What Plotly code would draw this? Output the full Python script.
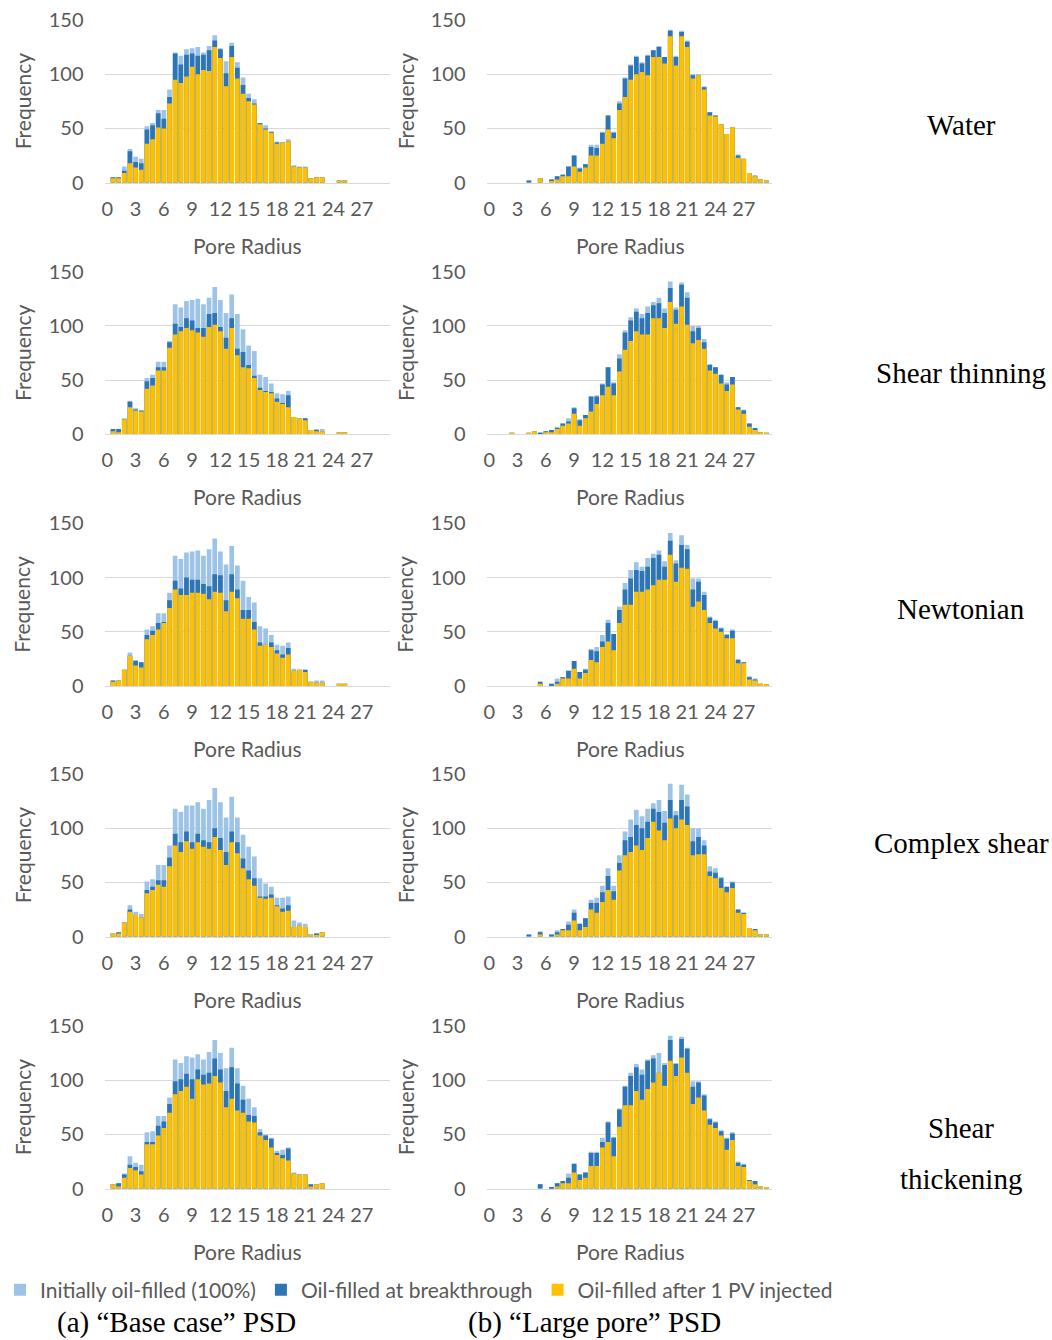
import plotly.graph_objects as go

# Pore-radius bins (0.6 wide)
RADIUS = [0.0, 0.6, 1.2, 1.8, 2.4, 3.0, 3.6, 4.2, 4.8, 5.4,
          6.0, 6.6, 7.2, 7.8, 8.4, 9.0, 9.6, 10.2, 10.8, 11.4,
          12.0, 12.6, 13.2, 13.8, 14.4, 15.0, 15.6, 16.2, 16.8, 17.4,
          18.0, 18.6, 19.2, 19.8, 20.4, 21.0, 21.6, 22.2, 22.8, 23.4,
          24.0, 24.6, 25.2, 25.8, 26.4, 27.0, 27.6, 28.2, 28.8, 29.4]

X_TICKS = [0, 3, 6, 9, 12, 15, 18, 21, 24, 27]
Y_TICKS = [0, 50, 100, 150]

SERIES = ["Initially oil-filled (100%)", "Oil-filled at breakthrough", "Oil-filled after 1 PV injected"]
# row labels on the right, one entry per text line with its vertical centre (px)
ROW_LABEL_LINES = [("Water", 125), ("Shear thinning", 373), ("Newtonian", 609),
                   ("Complex shear", 843), ("Shear", 1128), ("thickening", 1179)]
COL_LABELS = ["(a) \u201cBase case\u201d PSD", "(b) \u201cLarge pore\u201d PSD"]
X_TITLE = "Pore Radius"
Y_TITLE = "Frequency"

# ---------------- "Base case" PSD ----------------
BASE_WATER_INIT = [0, 5, 5, 15, 31, 24, 22, 52, 55, 67,
                   67, 86, 120, 117, 123, 124, 125, 120, 126, 136,
                   124, 112, 129, 111, 97, 82, 77, 55, 53, 47,
                   38, 37, 40, 16, 15, 15, 4, 5, 5, 0,
                   0, 2, 2, 0, 0, 0, 0, 0, 0, 0]
BASE_WATER_BT = [0, 5, 5, 11, 29, 19, 18, 49, 53, 64,
                 59, 79, 119, 109, 118, 119, 117, 118, 122, 131,
                 123, 101, 126, 106, 90, 78, 73, 55, 50, 47,
                 37, 37, 38, 15, 14, 14, 4, 5, 5, 0,
                 0, 2, 2, 0, 0, 0, 0, 0, 0, 0]
BASE_WATER_PV = [0, 4, 4, 9, 18, 14, 12, 36, 40, 51,
                 50, 73, 95, 92, 98, 107, 100, 104, 103, 125,
                 115, 89, 116, 96, 82, 75, 72, 54, 49, 46,
                 36, 37, 38, 15, 14, 14, 4, 5, 5, 0,
                 0, 2, 2, 0, 0, 0, 0, 0, 0, 0]

BASE_THIN_INIT = [0, 5, 5, 15, 31, 24, 22, 52, 55, 67,
                  67, 86, 120, 117, 123, 124, 125, 120, 126, 136,
                  124, 112, 129, 111, 97, 82, 77, 55, 53, 47,
                  38, 37, 40, 16, 15, 15, 4, 5, 5, 0,
                  0, 2, 2, 0, 0, 0, 0, 0, 0, 0]
BASE_THIN_BT = [0, 5, 5, 14, 30, 23, 22, 49, 52, 62,
                62, 85, 102, 99, 107, 105, 98, 98, 111, 112,
                99, 89, 107, 79, 76, 64, 54, 43, 40, 39,
                33, 29, 36, 16, 15, 15, 4, 4, 3, 0,
                0, 2, 2, 0, 0, 0, 0, 0, 0, 0]
BASE_THIN_PV = [0, 3, 2, 14, 25, 22, 21, 42, 45, 59,
                59, 80, 92, 95, 98, 96, 94, 90, 99, 101,
                95, 79, 98, 73, 62, 61, 52, 41, 39, 38,
                30, 28, 25, 16, 15, 13, 4, 3, 3, 0,
                0, 2, 2, 0, 0, 0, 0, 0, 0, 0]

BASE_NEWT_INIT = [0, 5, 5, 15, 31, 24, 22, 52, 55, 67,
                  67, 86, 120, 117, 123, 124, 125, 120, 126, 136,
                  124, 112, 129, 111, 97, 82, 77, 55, 53, 47,
                  38, 37, 40, 16, 15, 15, 4, 5, 5, 0,
                  0, 2, 2, 0, 0, 0, 0, 0, 0, 0]
BASE_NEWT_BT = [0, 5, 5, 15, 28, 23, 22, 47, 51, 58,
                59, 79, 97, 90, 100, 98, 98, 94, 92, 103,
                102, 79, 103, 89, 70, 70, 59, 40, 38, 40,
                33, 29, 35, 14, 15, 15, 4, 3, 3, 0,
                0, 2, 2, 0, 0, 0, 0, 0, 0, 0]
BASE_NEWT_PV = [0, 4, 5, 15, 28, 19, 17, 43, 47, 52,
                58, 72, 89, 84, 84, 86, 86, 85, 80, 87,
                86, 69, 87, 81, 62, 62, 52, 37, 38, 36,
                30, 26, 29, 14, 15, 13, 4, 3, 3, 0,
                0, 2, 2, 0, 0, 0, 0, 0, 0, 0]

BASE_CPLX_INIT = [0, 3, 4, 13, 29, 23, 21, 51, 53, 66,
                  66, 84, 118, 115, 121, 121, 124, 118, 126, 137,
                  124, 110, 129, 110, 94, 83, 74, 54, 49, 46,
                  36, 36, 37, 15, 13, 12, 2, 3, 4, 0,
                  0, 0, 0, 0, 0, 0, 0, 0, 0, 0]
BASE_CPLX_BT = [0, 3, 4, 13, 25, 20, 18, 43, 46, 52,
                52, 73, 95, 87, 97, 87, 95, 89, 87, 100,
                91, 78, 97, 87, 72, 61, 54, 37, 37, 39,
                29, 26, 29, 9, 10, 9, 2, 3, 4, 0,
                0, 0, 0, 0, 0, 0, 0, 0, 0, 0]
BASE_CPLX_PV = [0, 3, 3, 13, 23, 20, 18, 40, 43, 48,
                46, 65, 84, 78, 88, 81, 87, 83, 81, 92,
                80, 66, 87, 77, 63, 53, 47, 36, 35, 36,
                28, 23, 24, 9, 10, 9, 2, 1, 4, 0,
                0, 0, 0, 0, 0, 0, 0, 0, 0, 0]

BASE_THICK_INIT = [0, 4, 5, 14, 30, 24, 22, 52, 53, 67,
                   67, 84, 119, 116, 122, 121, 124, 119, 126, 137,
                   125, 111, 130, 111, 95, 83, 75, 55, 50, 47,
                   35, 36, 38, 15, 13, 13, 4, 4, 5, 0,
                   0, 0, 0, 0, 0, 0, 0, 0, 0, 0]
BASE_THICK_BT = [0, 4, 5, 13, 22, 20, 16, 43, 43, 58,
                 62, 78, 99, 101, 106, 101, 110, 105, 107, 120,
                 110, 90, 112, 97, 82, 68, 67, 52, 49, 46,
                 33, 31, 37, 14, 13, 13, 4, 4, 5, 0,
                 0, 0, 0, 0, 0, 0, 0, 0, 0, 0]
BASE_THICK_PV = [0, 4, 2, 10, 19, 17, 13, 41, 41, 49,
                 56, 70, 87, 90, 94, 83, 101, 96, 97, 104,
                 98, 75, 83, 72, 70, 62, 61, 49, 45, 38,
                 31, 28, 26, 14, 13, 13, 2, 4, 5, 0,
                 0, 0, 0, 0, 0, 0, 0, 0, 0, 0]

# ---------------- "Large pore" PSD ----------------
LARGE_WATER_INIT = [0, 0, 0, 0, 0, 0, 0, 2, 0, 4,
                    0, 3, 6, 8, 15, 25, 14, 17, 35, 35,
                    47, 62, 47, 75, 97, 109, 117, 111, 118, 122,
                    126, 116, 141, 117, 140, 131, 100, 100, 89, 65,
                    62, 54, 45, 51, 26, 22, 9, 7, 3, 2]
LARGE_WATER_BT = [0, 0, 0, 0, 0, 0, 0, 2, 0, 4,
                  0, 3, 6, 7, 15, 25, 13, 17, 33, 32,
                  46, 62, 46, 73, 96, 108, 116, 110, 117, 122,
                  125, 116, 140, 116, 139, 130, 99, 99, 88, 65,
                  62, 54, 45, 51, 25, 22, 9, 6, 3, 2]
LARGE_WATER_PV = [0, 0, 0, 0, 0, 0, 0, 0, 0, 4,
                  0, 1, 3, 6, 6, 15, 10, 14, 25, 25,
                  36, 49, 41, 67, 79, 95, 100, 102, 99, 116,
                  116, 110, 135, 108, 135, 125, 96, 99, 86, 62,
                  61, 54, 45, 51, 23, 22, 9, 6, 3, 2]

LARGE_THIN_INIT = [0, 0, 0, 0, 1, 0, 0, 1, 3, 2,
                   3, 4, 7, 10, 15, 25, 14, 18, 35, 36,
                   47, 62, 48, 74, 96, 108, 116, 111, 118, 122,
                   126, 116, 141, 117, 140, 131, 100, 100, 88, 65,
                   62, 55, 48, 53, 25, 23, 10, 6, 2, 1]
LARGE_THIN_BT = [0, 0, 0, 0, 1, 0, 0, 1, 3, 1,
                 3, 4, 6, 10, 12, 24, 13, 18, 35, 35,
                 46, 62, 47, 70, 94, 105, 113, 107, 112, 119,
                 121, 112, 135, 115, 138, 126, 95, 98, 85, 64,
                 62, 55, 46, 53, 25, 22, 10, 6, 2, 1]
LARGE_THIN_PV = [0, 0, 0, 0, 1, 0, 0, 1, 3, 0,
                 2, 2, 5, 8, 10, 19, 8, 15, 21, 28,
                 36, 44, 36, 58, 78, 86, 95, 92, 92, 107,
                 107, 98, 122, 102, 118, 101, 84, 87, 79, 59,
                 56, 47, 40, 46, 23, 19, 7, 4, 2, 1]

LARGE_NEWT_INIT = [0, 0, 0, 0, 0, 0, 0, 0, 0, 4,
                   0, 2, 7, 8, 14, 23, 13, 16, 34, 36,
                   47, 61, 48, 73, 95, 107, 114, 110, 118, 122,
                   125, 115, 141, 116, 139, 130, 99, 99, 87, 64,
                   61, 54, 48, 52, 25, 22, 9, 7, 2, 1]
LARGE_NEWT_BT = [0, 0, 0, 0, 0, 0, 0, 0, 0, 4,
                 0, 2, 4, 8, 14, 23, 13, 15, 33, 32,
                 41, 58, 48, 70, 89, 99, 107, 106, 110, 118,
                 121, 110, 134, 113, 130, 126, 89, 96, 84, 63,
                 60, 53, 47, 51, 24, 22, 8, 6, 2, 1]
LARGE_NEWT_PV = [0, 0, 0, 0, 0, 0, 0, 0, 0, 2,
                 0, 0, 2, 7, 7, 16, 7, 12, 24, 22,
                 36, 41, 33, 58, 75, 75, 87, 87, 89, 93,
                 98, 98, 121, 96, 109, 108, 73, 78, 70, 58,
                 53, 50, 44, 44, 21, 21, 6, 5, 2, 1]

LARGE_CPLX_INIT = [0, 0, 0, 0, 0, 0, 0, 2, 0, 5,
                   0, 2, 6, 7, 14, 25, 12, 17, 34, 36,
                   47, 63, 47, 75, 97, 108, 117, 111, 118, 123,
                   126, 116, 141, 116, 140, 131, 100, 100, 89, 65,
                   63, 55, 46, 51, 25, 22, 8, 7, 2, 2]
LARGE_CPLX_BT = [0, 0, 0, 0, 0, 0, 0, 2, 0, 4,
                 0, 2, 4, 7, 11, 22, 12, 17, 31, 31,
                 41, 56, 42, 68, 89, 92, 103, 100, 106, 118,
                 115, 105, 126, 112, 126, 120, 88, 92, 84, 60,
                 59, 54, 46, 50, 25, 22, 8, 7, 2, 2]
LARGE_CPLX_PV = [0, 0, 0, 0, 0, 0, 0, 0, 0, 2,
                 0, 0, 2, 6, 6, 15, 6, 9, 25, 22,
                 32, 43, 34, 61, 75, 78, 84, 80, 91, 106,
                 98, 89, 109, 100, 108, 103, 75, 76, 76, 56,
                 54, 45, 41, 45, 22, 21, 8, 6, 2, 2]

LARGE_THICK_INIT = [0, 0, 0, 0, 0, 0, 0, 0, 0, 4,
                    0, 1, 5, 7, 14, 23, 13, 15, 34, 34,
                    47, 62, 48, 74, 95, 107, 115, 110, 119, 123,
                    125, 116, 141, 116, 140, 130, 99, 99, 87, 65,
                    62, 54, 47, 52, 25, 23, 8, 7, 2, 1]
LARGE_THICK_BT = [0, 0, 0, 0, 0, 0, 0, 0, 0, 4,
                  0, 1, 5, 7, 10, 23, 13, 15, 33, 33,
                  43, 61, 47, 73, 94, 104, 112, 105, 118, 120,
                  107, 114, 137, 115, 138, 129, 94, 98, 86, 64,
                  61, 53, 46, 51, 24, 22, 8, 7, 2, 1]
LARGE_THICK_PV = [0, 0, 0, 0, 0, 0, 0, 0, 0, 0,
                  0, 0, 2, 5, 5, 15, 8, 10, 21, 21,
                  38, 43, 30, 57, 77, 77, 90, 82, 92, 98,
                  107, 95, 118, 104, 121, 107, 78, 84, 72, 59,
                  56, 49, 36, 45, 21, 20, 7, 4, 2, 1]

PANELS = [
    [(BASE_WATER_INIT, BASE_WATER_BT, BASE_WATER_PV), (LARGE_WATER_INIT, LARGE_WATER_BT, LARGE_WATER_PV)],
    [(BASE_THIN_INIT, BASE_THIN_BT, BASE_THIN_PV), (LARGE_THIN_INIT, LARGE_THIN_BT, LARGE_THIN_PV)],
    [(BASE_NEWT_INIT, BASE_NEWT_BT, BASE_NEWT_PV), (LARGE_NEWT_INIT, LARGE_NEWT_BT, LARGE_NEWT_PV)],
    [(BASE_CPLX_INIT, BASE_CPLX_BT, BASE_CPLX_PV), (LARGE_CPLX_INIT, LARGE_CPLX_BT, LARGE_CPLX_PV)],
    [(BASE_THICK_INIT, BASE_THICK_BT, BASE_THICK_PV), (LARGE_THICK_INIT, LARGE_THICK_BT, LARGE_THICK_PV)],
]

COLORS = ["#9DC3E6", "#2E75B6", "#FFC000"]
GRID = "#D9D9D9"
TEXT = "#595959"
SANS = "Lato"
SERIF = "Liberation Serif"

W, H = 1052, 1340
ROW_TOPS = [20, 271.7, 523.3, 774, 1026]
PLOT_H = 162.7
COL_X = [(104.5, 390.0), (486.5, 772.0)]
Y_TITLE_X = [22, 405]
X_TITLE_X = [247, 630]


def px_x(v):
    return v / W


def px_y(v):
    return 1 - v / H


fig = go.Figure()
layout = {}
annotations = []

for r, row in enumerate(PANELS):
    for c, panel in enumerate(row):
        k = r * 2 + c + 1
        xa = "x" if k == 1 else f"x{k}"
        ya = "y" if k == 1 else f"y{k}"
        for name, vals, color in zip(SERIES, panel, COLORS):
            fig.add_trace(go.Bar(
                x=RADIUS, y=vals, xaxis=xa, yaxis=ya, name=name,
                legendgroup=name, showlegend=(k == 1),
                marker=dict(color=color, line=dict(width=0)),
                width=0.5, opacity=1, hoverinfo="x+y+name",
            ))
        x0, x1 = COL_X[c]
        top = ROW_TOPS[r]
        layout[f"xaxis{'' if k == 1 else k}"] = dict(
            domain=[px_x(x0), px_x(x1)], range=[-0.3, 30.0], anchor=ya,
            tickmode="array", tickvals=X_TICKS, ticktext=[str(t) for t in X_TICKS],
            showgrid=False, zeroline=False, showline=True, linecolor=GRID, linewidth=1,
            ticks="", ticklabelstandoff=8, automargin=False,
            tickfont=dict(family=SANS, size=20, color=TEXT),
        )
        layout[f"yaxis{'' if k == 1 else k}"] = dict(
            domain=[px_y(top + PLOT_H), px_y(top)], range=[0, 150], anchor=xa,
            tickmode="array", tickvals=Y_TICKS,
            showgrid=True, gridcolor=GRID, gridwidth=1, zeroline=False, showline=False,
            ticks="", ticklabelstandoff=20, automargin=False,
            tickfont=dict(family=SANS, size=20, color=TEXT),
        )
        # axis titles
        annotations.append(dict(
            text=Y_TITLE, x=px_x(Y_TITLE_X[c]), y=px_y(top + PLOT_H / 2),
            xref="paper", yref="paper", xanchor="center", yanchor="middle",
            textangle=-90, showarrow=False, font=dict(family=SANS, size=21, color=TEXT),
        ))
        annotations.append(dict(
            text=X_TITLE, x=px_x(X_TITLE_X[c]), y=px_y(top + 225),
            xref="paper", yref="paper", xanchor="center", yanchor="middle",
            showarrow=False, font=dict(family=SANS, size=21, color=TEXT),
        ))

for label, yc in ROW_LABEL_LINES:
    annotations.append(dict(
        text=label, x=px_x(961), y=px_y(yc), xref="paper", yref="paper",
        xanchor="center", yanchor="middle", showarrow=False,
        font=dict(family=SERIF, size=29, color="black"),
    ))
for label, xc in zip(COL_LABELS, [176, 594]):
    annotations.append(dict(
        text=label, x=px_x(xc), y=px_y(1322), xref="paper", yref="paper",
        xanchor="center", yanchor="middle", showarrow=False,
        font=dict(family=SERIF, size=29, color="black"),
    ))

fig.update_layout(
    width=W, height=H, margin=dict(l=0, r=0, t=0, b=0),
    paper_bgcolor="white", plot_bgcolor="white",
    barmode="overlay",
    showlegend=True,
    legend=dict(
        orientation="h", x=0, xanchor="left", y=px_y(1290), yanchor="middle",
        font=dict(family=SANS, size=21, color=TEXT), itemwidth=30,
        traceorder="normal", bgcolor="rgba(0,0,0,0)",
    ),
    annotations=annotations,
    **layout,
)

fig.write_html("out.html")
